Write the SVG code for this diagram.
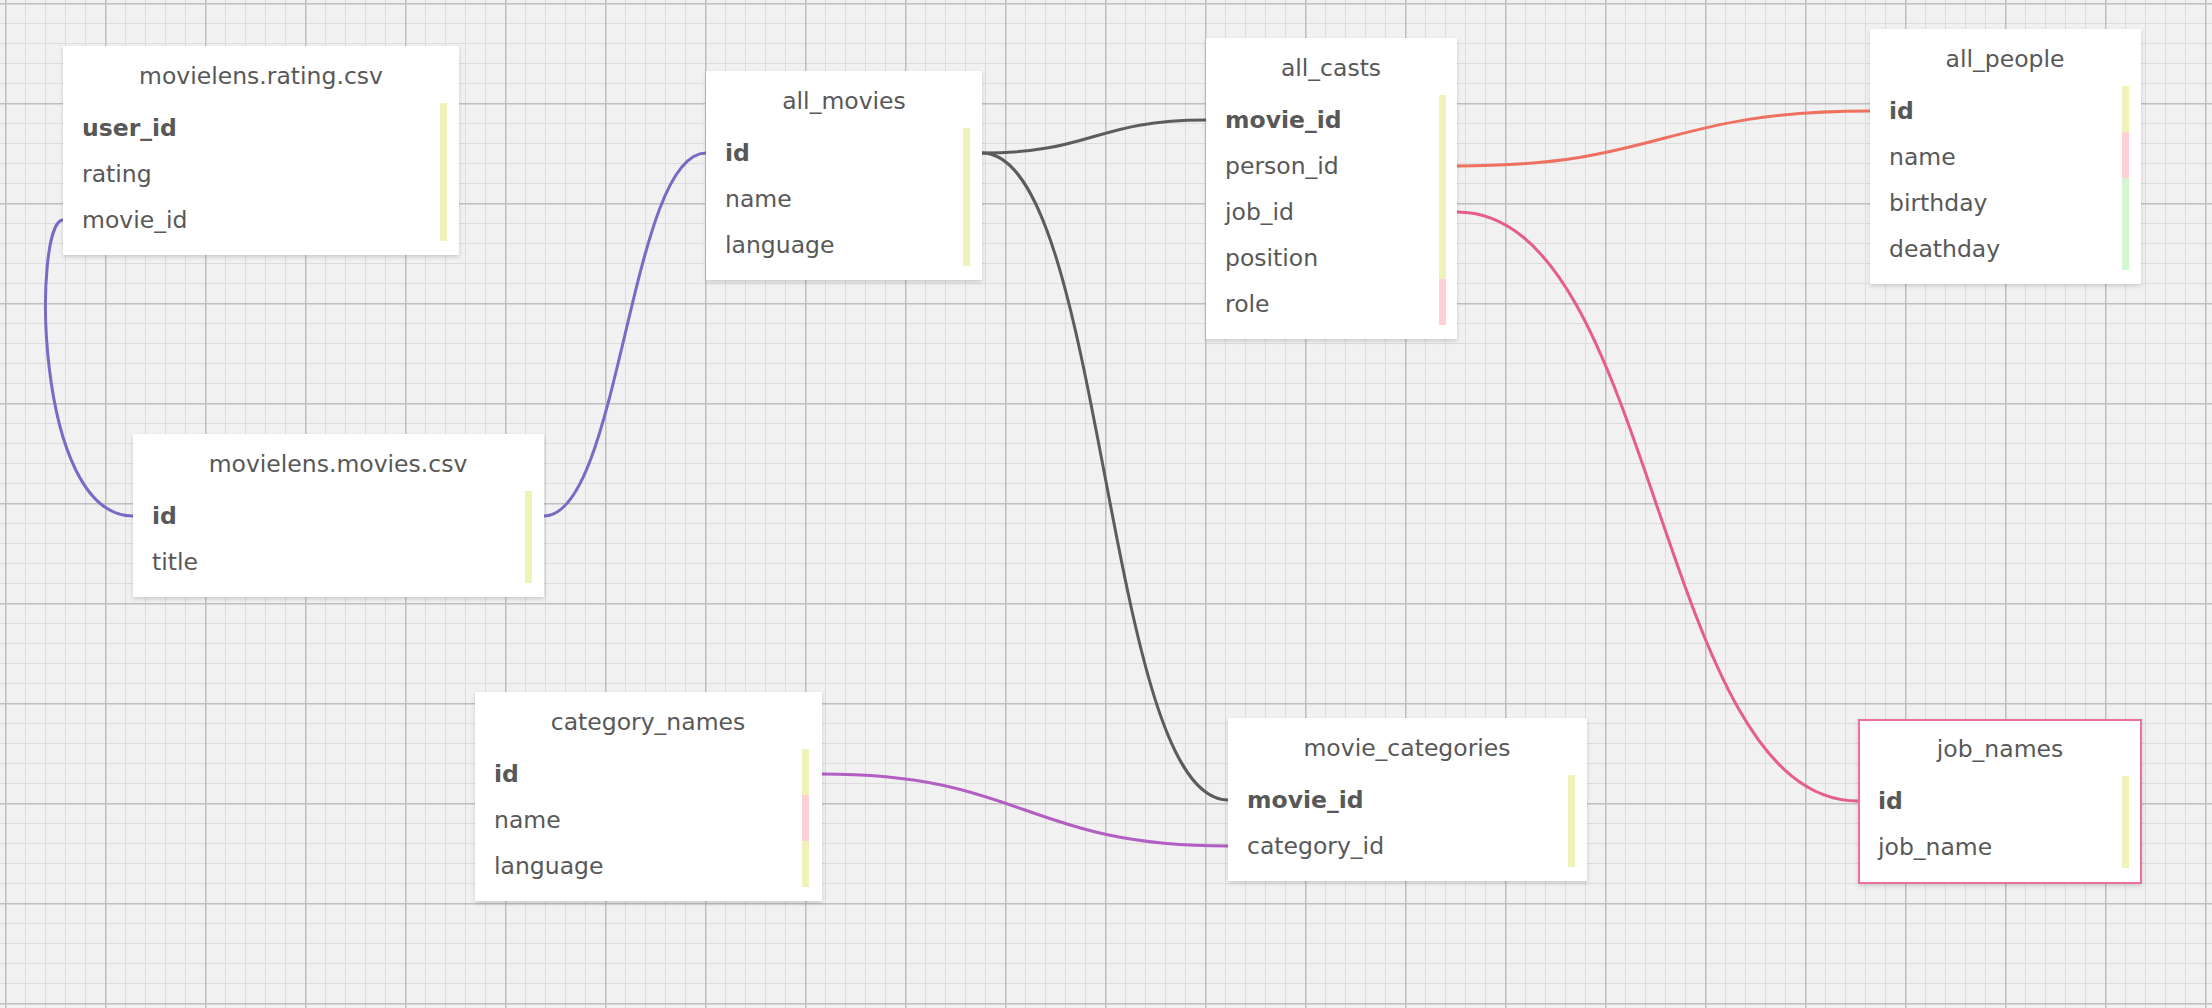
<svg xmlns="http://www.w3.org/2000/svg" width="2212" height="1008" viewBox="0 0 2212 1008">
<defs>
<pattern id="grid" patternUnits="userSpaceOnUse" x="5" y="3" width="100" height="100">
<rect width="100" height="100" fill="#f1f1f1"/>
<path d="M20.5,0V100M40.5,0V100M60.5,0V100M80.5,0V100M0,20.5H100M0,40.5H100M0,60.5H100M0,80.5H100" stroke="#dcdcdc" stroke-width="1" fill="none"/>
<path d="M0.5,0V100M0,0.5H100" stroke="#bfbfbf" stroke-width="2" fill="none"/>
</pattern>
<filter id="sh" x="-5%" y="-5%" width="110%" height="115%">
<feDropShadow dx="0" dy="2" stdDeviation="2" flood-color="#000" flood-opacity="0.16"/>
</filter>
</defs>
<style>
.box{fill:#fff;filter:url(#sh)}
.jb{stroke:#ec6f9a;stroke-width:2}
.t{font-family:"DejaVu Sans",Verdana,sans-serif;font-size:23.5px;fill:#585858;text-anchor:middle}
.r{font-family:"DejaVu Sans",Verdana,sans-serif;font-size:23.5px;fill:#585858}
.b{font-weight:bold}
.y{fill:#eff2b9}
.p{fill:#fdd2d6}
.g{fill:#d3f7d3}
.c{fill:none;stroke-width:3;stroke-linecap:round}
</style>
<rect width="2212" height="1008" fill="url(#grid)"/>

<g id="connectors">
<path class="c" stroke="#7c69c6" d="M63,220 C33,220 33,516 133,516"/>
<path class="c" stroke="#7c69c6" d="M544,516 C620,516 630,153 706,153"/>
<path class="c" stroke="#5c5c5c" d="M982,153 C1094,153 1094,120 1206,120"/>
<path class="c" stroke="#5c5c5c" d="M982,153 C1105,153 1105,800 1228,800"/>
<path class="c" stroke="#f0705f" d="M1457,166 C1663,166 1663,111 1870,111"/>
<path class="c" stroke="#e65c8a" d="M1457,212 C1657,212 1657,801 1858,801"/>
<path class="c" stroke="#b25ec2" d="M822,774 C1025,774 1025,846 1228,846"/>
</g>

<g id="movielens_rating">
<rect class="box" x="63" y="46" width="396" height="209"/>
<text class="t" x="261" y="84">movielens.rating.csv</text>
<rect class="y" x="440" y="103" width="7" height="138"/>
<text class="r b" x="82" y="136">user_id</text>
<text class="r" x="82" y="182">rating</text>
<text class="r" x="82" y="228">movie_id</text>
</g>

<g id="all_movies">
<rect class="box" x="706" y="71" width="276" height="209"/>
<text class="t" x="844" y="109">all_movies</text>
<rect class="y" x="963" y="128" width="7" height="138"/>
<text class="r b" x="725" y="161">id</text>
<text class="r" x="725" y="207">name</text>
<text class="r" x="725" y="253">language</text>
</g>

<g id="all_casts">
<rect class="box" x="1206" y="38" width="251" height="301"/>
<text class="t" x="1331" y="76">all_casts</text>
<rect class="y" x="1439" y="95" width="7" height="184"/>
<rect class="p" x="1439" y="279" width="7" height="46"/>
<text class="r b" x="1225" y="128">movie_id</text>
<text class="r" x="1225" y="174">person_id</text>
<text class="r" x="1225" y="220">job_id</text>
<text class="r" x="1225" y="266">position</text>
<text class="r" x="1225" y="312">role</text>
</g>

<g id="all_people">
<rect class="box" x="1870" y="29" width="271" height="255"/>
<text class="t" x="2005" y="67">all_people</text>
<rect class="y" x="2122" y="86" width="7" height="46"/>
<rect class="p" x="2122" y="132" width="7" height="46"/>
<rect class="g" x="2122" y="178" width="7" height="92"/>
<text class="r b" x="1889" y="119">id</text>
<text class="r" x="1889" y="165">name</text>
<text class="r" x="1889" y="211">birthday</text>
<text class="r" x="1889" y="257">deathday</text>
</g>

<g id="movielens_movies">
<rect class="box" x="133" y="434" width="411" height="163"/>
<text class="t" x="338" y="472">movielens.movies.csv</text>
<rect class="y" x="525" y="491" width="7" height="92"/>
<text class="r b" x="152" y="524">id</text>
<text class="r" x="152" y="570">title</text>
</g>

<g id="category_names">
<rect class="box" x="475" y="692" width="347" height="209"/>
<text class="t" x="648" y="730">category_names</text>
<rect class="y" x="802" y="749" width="7" height="46"/>
<rect class="p" x="802" y="795" width="7" height="46"/>
<rect class="y" x="802" y="841" width="7" height="46"/>
<text class="r b" x="494" y="782">id</text>
<text class="r" x="494" y="828">name</text>
<text class="r" x="494" y="874">language</text>
</g>

<g id="movie_categories">
<rect class="box" x="1228" y="718" width="359" height="163"/>
<text class="t" x="1407" y="756">movie_categories</text>
<rect class="y" x="1568" y="775" width="7" height="92"/>
<text class="r b" x="1247" y="808">movie_id</text>
<text class="r" x="1247" y="854">category_id</text>
</g>

<g id="job_names">
<rect class="box jb" x="1859" y="720" width="282" height="163"/>
<text class="t" x="2000" y="757">job_names</text>
<rect class="y" x="2122" y="776" width="7" height="92"/>
<text class="r b" x="1878" y="809">id</text>
<text class="r" x="1878" y="855">job_name</text>
</g>
</svg>
